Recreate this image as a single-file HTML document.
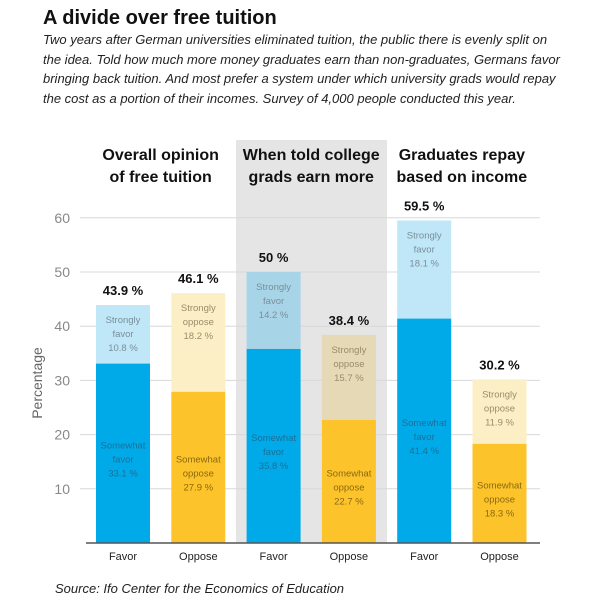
<!DOCTYPE html>
<html><head><meta charset="utf-8"><style>
body{margin:0;background:#fff;width:600px;height:614px;overflow:hidden;font-family:"Liberation Sans",sans-serif;}
#title{position:absolute;left:43px;top:7px;font-size:20px;font-weight:bold;color:#111;}
#sub{position:absolute;left:43px;top:30px;width:560px;white-space:nowrap;font-size:13px;font-style:italic;line-height:19.5px;color:#222;}
#src{position:absolute;left:55px;top:581px;font-size:13px;font-style:italic;color:#222;}
</style></head><body>
<div id="title">A divide over free tuition</div>
<div id="sub">Two years after German universities eliminated tuition, the public there is evenly split on<br>the idea. Told how much more money graduates earn than non-graduates, Germans favor<br>bringing back tuition. And most prefer a system under which university grads would repay<br>the cost as a portion of their incomes. Survey of 4,000 people conducted this year.</div>
<svg id="chart" width="600" height="614" style="position:absolute;left:0;top:0"></svg>
<div id="src">Source: Ifo Center for the Economics of Education</div>
<script>
const categories=["Favor","Oppose","Favor","Oppose","Favor","Oppose"];
const somewhat=[33.1,27.9,35.8,22.7,41.4,18.3];
const strongly=[10.8,18.2,14.2,15.7,18.1,11.9];
const totals=["43.9 %","46.1 %","50 %","38.4 %","59.5 %","30.2 %"];
const yTicks=[10,20,30,40,50,60];
const groupTitles=[["Overall opinion","of free tuition"],["When told college","grads earn more"],["Graduates repay","based on income"]];
const NS="http://www.w3.org/2000/svg";
const svg=document.getElementById('chart');
function y(v){return 543-5.42*v;}
function x(i){return 96+i*75.3;}
const bw=54;
function mk(t,a,p){const e=document.createElementNS(NS,t);for(const k in a)e.setAttribute(k,a[k]);(p||svg).appendChild(e);return e;}
const panel=mk('rect',{x:236,y:140,width:151,height:403,fill:'#e5e5e5'});


yTicks.forEach(t=>{
 const l=mk('line',{x1:80,x2:540,y1:y(t),y2:y(t),stroke:'#d8d8d8','stroke-width':1});
 
 
 const tx=mk('text',{x:70,y:y(t)+5,'text-anchor':'end','font-size':14,fill:'#888'});tx.textContent=t;
 
 
});
const yt=mk('text',{transform:'translate(42,383) rotate(-90)','text-anchor':'middle','font-size':14,fill:'#666'});yt.textContent='Percentage';


groupTitles.forEach((g,i)=>{
 const cx=(x(2*i)+x(2*i+1)+bw)/2;
 g.forEach((s,j)=>{const t=mk('text',{x:cx,y:160+j*22,'text-anchor':'middle','font-size':16,'font-weight':'bold',fill:'#111'});t.textContent=s;
 
 });
});
function lbl(cx,yy,lines,col){lines.forEach((s,j)=>{const t=mk('text',{x:cx,y:yy+j*14,'text-anchor':'middle','font-size':9.5,fill:col});t.textContent=s;
 
 });}
categories.forEach((c,i)=>{
 const fav=i%2==0, inPanel=(i==2||i==3);
 const dark=fav?'#00aae9':'#fcc32b';
 const light=fav?(inPanel?'#a8d4e8':'#bfe7f8'):(inPanel?'#e6d9b6':'#fdefc5');
 const tot=somewhat[i]+strongly[i];
 const r1=mk('rect',{x:x(i),y:y(tot),width:bw,height:y(somewhat[i])-y(tot),fill:light});
 
 
 const r2=mk('rect',{x:x(i),y:y(somewhat[i]),width:bw,height:y(0)-y(somewhat[i]),fill:dark});
 
 
 const cx=x(i)+bw/2;
 const w=fav?'favor':'oppose';
 lbl(cx,y(tot)+18,['Strongly',w,strongly[i]+' %'],fav?'#7a8f99':'#998c6a');
 lbl(cx,y(somewhat[i]/2)-5,['Somewhat',w,somewhat[i]+' %'],fav?'#1a6f96':'#8a6a10');
 const tl=mk('text',{x:cx,y:y(tot)-10,'text-anchor':'middle','font-size':13,'font-weight':'bold',fill:'#111'});tl.textContent=totals[i];
 
 
 const cl=mk('text',{x:cx,y:560,'text-anchor':'middle','font-size':11,fill:'#222'});cl.textContent=c;
 
 
});
const base=mk('line',{x1:86,x2:540,y1:543,y2:543,stroke:'#555','stroke-width':1.5});


</script>
</body></html>
